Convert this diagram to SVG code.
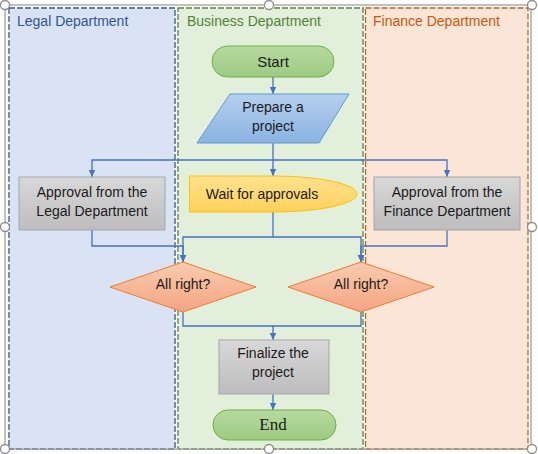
<svg xmlns="http://www.w3.org/2000/svg" width="538" height="454" viewBox="0 0 538 454">
<defs>
<linearGradient id="gGreen" x1="0" y1="0" x2="0" y2="1"><stop offset="0" stop-color="#B7DA9F"/><stop offset="1" stop-color="#9DCA82"/></linearGradient>
<linearGradient id="gBlue" x1="0" y1="0" x2="0" y2="1"><stop offset="0" stop-color="#B5D0EE"/><stop offset="1" stop-color="#8AB2E1"/></linearGradient>
<linearGradient id="gGray" x1="0" y1="0" x2="0" y2="1"><stop offset="0" stop-color="#D8D8D8"/><stop offset="1" stop-color="#BDBDBD"/></linearGradient>
<linearGradient id="gYellow" x1="0" y1="0" x2="0" y2="1"><stop offset="0" stop-color="#FFE38F"/><stop offset="1" stop-color="#FFD15C"/></linearGradient>
<linearGradient id="gOrange" x1="0" y1="0" x2="0" y2="1"><stop offset="0" stop-color="#F9CBAF"/><stop offset="1" stop-color="#F4A582"/></linearGradient>
<marker id="arr" markerUnits="userSpaceOnUse" markerWidth="8" markerHeight="8" viewBox="0 0 8 8" refX="7" refY="4" orient="auto">
<path d="M0,0.8 L7,4 L0,7.2 Z" fill="#4472C4"/>
</marker>
</defs>
<style>
text{font-family:"Liberation Sans",Arial,sans-serif;font-size:14px;fill:#1A1A1A;text-anchor:middle}
.title{text-anchor:start}
.under{fill:none;stroke:#FFFFFF;stroke-width:1.3}
.lane{stroke-width:1.3;stroke-dasharray:6 2}
.conn{fill:none;stroke:#4472C4;stroke-width:1.3}
.handle{fill:#FFFFFF;stroke:#8C8C8C;stroke-width:1.3}
</style>
<rect width="538" height="454" fill="#FFFFFF"/>
<g id="lane-legal">
<rect x="9" y="8" width="166" height="441" fill="#DAE3F3"/>
<rect class="under" x="9" y="8" width="166" height="441"/>
<rect class="lane" x="9" y="8" width="166" height="441" fill="none" stroke="#2F5597"/>
<text class="title" x="17" y="26" fill="#2F5597" style="fill:#2F5597">Legal Department</text>
</g>
<g id="lane-business">
<rect x="178" y="8" width="185" height="441" fill="#E2EFDA"/>
<rect class="under" x="178" y="8" width="185" height="441"/>
<rect class="lane" x="178" y="8" width="185" height="441" fill="none" stroke="#548235"/>
<text class="title" x="187" y="26" style="fill:#548235">Business Department</text>
</g>
<g id="lane-finance">
<rect x="365.5" y="8" width="162.5" height="441" fill="#FBE5D6"/>
<rect class="under" x="365.5" y="8" width="162.5" height="441"/>
<rect class="lane" x="365.5" y="8" width="162.5" height="441" fill="none" stroke="#C55A11"/>
<text class="title" x="373" y="26" style="fill:#C55A11">Finance Department</text>
</g>
<g id="connectors">
<path class="conn" d="M273,77 V94" marker-end="url(#arr)"/>
<path class="conn" d="M273,143 V176" marker-end="url(#arr)"/>
<path class="conn" d="M273,160 H92 V177" marker-end="url(#arr)"/>
<path class="conn" d="M273,160 H447 V177" marker-end="url(#arr)"/>
<path class="conn" d="M273,212 V237 H183 V262" marker-end="url(#arr)"/>
<path class="conn" d="M273,237 H361 V262" marker-end="url(#arr)"/>
<path class="conn" d="M92,230 V246 H183 V262" marker-end="url(#arr)"/>
<path class="conn" d="M447,230 V246 H361 V262" marker-end="url(#arr)"/>
<path class="conn" d="M183,312 V326 H361 V312"/>
<path class="conn" d="M273,326 V340" marker-end="url(#arr)"/>
<path class="conn" d="M273,394 V410" marker-end="url(#arr)"/>
</g>
<g id="start">
<rect x="212" y="46" width="122" height="31" rx="15.5" fill="url(#gGreen)" stroke="#70AD47" stroke-width="1"/>
<text x="273" y="67" style="font-size:15px">Start</text>
</g>
<g id="prepare">
<polygon points="230,94 349,94 319,143 197,143" fill="url(#gBlue)" stroke="#5B9BD5" stroke-width="1"/>
<text x="273" y="112">Prepare a</text>
<text x="273" y="131">project</text>
</g>
<g id="legal-approval">
<rect x="19" y="177" width="146" height="53" fill="url(#gGray)" stroke="#A5A5A5" stroke-width="1"/>
<text x="92" y="196.5">Approval from the</text>
<text x="92" y="216">Legal Department</text>
</g>
<g id="wait">
<path d="M189.5,176 H273 A84,18 0 0 1 273,212 H189.5 Z" fill="url(#gYellow)" stroke="#FFC000" stroke-width="1"/>
<text x="262" y="199">Wait for approvals</text>
</g>
<g id="finance-approval">
<rect x="374" y="177" width="146" height="53" fill="url(#gGray)" stroke="#A5A5A5" stroke-width="1"/>
<text x="447" y="196.5">Approval from the</text>
<text x="447" y="216">Finance Department</text>
</g>
<g id="check-legal">
<polygon points="183,262 256,287 183,312 110,287" fill="url(#gOrange)" stroke="#ED7D31" stroke-width="1"/>
<text x="183" y="289">All right?</text>
</g>
<g id="check-finance">
<polygon points="361,262 434,287 361,312 288,287" fill="url(#gOrange)" stroke="#ED7D31" stroke-width="1"/>
<text x="361" y="289">All right?</text>
</g>
<g id="finalize">
<rect x="219" y="340" width="110" height="54" fill="url(#gGray)" stroke="#A5A5A5" stroke-width="1"/>
<text x="273" y="358">Finalize the</text>
<text x="273" y="377">project</text>
</g>
<g id="end">
<rect x="213" y="410" width="123" height="30" rx="15" fill="url(#gGreen)" stroke="#70AD47" stroke-width="1"/>
<text x="273" y="430" style="font-family:'Liberation Serif','Times New Roman',serif;font-size:17px">End</text>
</g>
<g id="selection">
<rect x="5" y="5" width="526" height="444" fill="none" stroke="#A0A0A0" stroke-width="1.3"/>
<circle class="handle" cx="5" cy="5" r="4.5"/>
<circle class="handle" cx="269" cy="5" r="4.5"/>
<circle class="handle" cx="532" cy="5" r="4.5"/>
<circle class="handle" cx="5" cy="227" r="4.5"/>
<circle class="handle" cx="532" cy="227" r="4.5"/>
<circle class="handle" cx="5" cy="449" r="4.5"/>
<circle class="handle" cx="269" cy="449" r="4.5"/>
<circle class="handle" cx="532" cy="449" r="4.5"/>
</g>
</svg>
